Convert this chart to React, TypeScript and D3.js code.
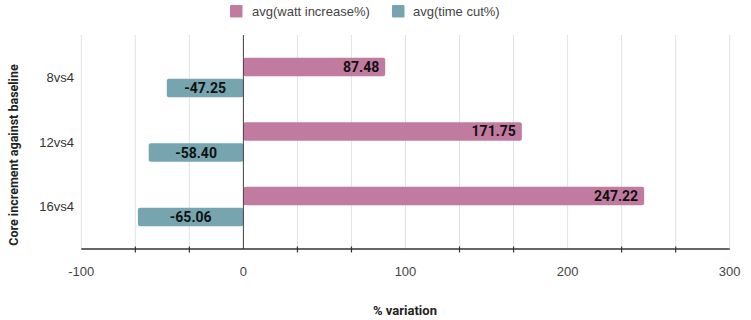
import React from "react";
import * as d3 from "d3";

const categories = ["8vs4", "12vs4", "16vs4"];
const wattIncrease = [87.48, 171.75, 247.22];
const timeCut = [-47.25, -58.4, -65.06];
const seriesNames = ["avg(watt increase%)", "avg(time cut%)"];
const tickLabels = [-100, 0, 100, 200, 300];

const W = 751;
const H = 320;
const colors = ["#C27BA0", "#76A5AF"];

export default function App() {
  const x = d3.scaleLinear().domain([-100, 300]).range([81.3, 729.7]);
  const y = d3.scalePoint<string>().domain(categories).range([35, 249]).padding(0.66);
  const grid = d3.range(0, 13).map((i) => -100 + (i * 100) / 3);
  const minor = grid.filter((v) => Math.abs(v - Math.round(v / 100) * 100) > 1);
  const barH = 18.5;
  const gap = 2.6;
  const top = 35;
  const bottom = 249;
  const font = "Roboto, 'Liberation Sans', Arial, sans-serif";
  const sans = "'Liberation Sans', Arial, sans-serif";

  return (
    <svg width={W} height={H} style={{ position: "absolute", left: 0, top: 0 }}>
      <rect width={W} height={H} fill="#fff" />
      {/* legend */}
      <g>
        <rect x={230} y={5} width={12.5} height={12.5} fill={colors[0]} rx={1} />
        <text x={252} y={16} fontFamily={sans} fontSize={13} fill="#444">{seriesNames[0]}</text>
        <rect x={392} y={5} width={12.5} height={12.5} fill={colors[1]} rx={1} />
        <text x={413} y={16} fontFamily={sans} fontSize={13} fill="#444">{seriesNames[1]}</text>
      </g>
      {/* gridlines */}
      {grid.map((v, i) => (
        <line key={i} x1={x(v)} x2={x(v)} y1={top} y2={bottom} stroke="#e2e2e2" strokeWidth={1} />
      ))}
      {/* bars */}
      {categories.map((c, i) => {
        const cy = y(c) as number;
        const w = wattIncrease[i];
        const t = timeCut[i];
        const wx0 = x(0), wx1 = x(w);
        const tx0 = x(t), tx1 = x(0);
        return (
          <g key={c}>
            <rect x={wx0} y={cy - gap / 2 - barH} width={wx1 - wx0} height={barH} fill={colors[0]} rx={2} />
            <text x={wx1 - 6} y={cy - gap / 2 - barH / 2} dy="0.36em" textAnchor="end" fontFamily={font} fontWeight="bold" fontSize={14} fill="#111">
              {w.toFixed(2)}
            </text>
            <rect x={tx0} y={cy + gap / 2} width={tx1 - tx0} height={barH} fill={colors[1]} rx={2} />
            <text x={(tx0 + tx1) / 2} y={cy + gap / 2 + barH / 2} dy="0.36em" textAnchor="middle" fontFamily={font} fontWeight="bold" fontSize={14} fill="#111">
              {t.toFixed(2)}
            </text>
            <text x={74} y={cy} dy="0.36em" textAnchor="end" fontFamily={sans} fontSize={13} fill="#333">{c}</text>
          </g>
        );
      })}
      {/* zero line */}
      <line x1={x(0)} x2={x(0)} y1={top} y2={bottom} stroke="#444" strokeWidth={1} />
      {/* x axis */}
      <line x1={x(-100)} x2={x(300)} y1={bottom} y2={bottom} stroke="#333" strokeWidth={1.3} />
      {minor.map((v, i) => (
        <line key={i} x1={x(v)} x2={x(v)} y1={bottom - 2.5} y2={bottom + 3.5} stroke="#333" strokeWidth={1.2} />
      ))}
      {tickLabels.map((v) => (
        <text key={v} x={x(v)} y={276} textAnchor="middle" fontFamily={sans} fontSize={13} fill="#444">{v}</text>
      ))}
      <text x={405} y={315} textAnchor="middle" fontFamily={font} fontWeight="bold" fontSize={13} fill="#222">% variation</text>
      <text transform={`translate(17.5,155) rotate(-90)`} textAnchor="middle" fontFamily={font} fontWeight="bold" fontSize={12.5} fill="#222">
        Core increment against baseline
      </text>
    </svg>
  );
}
